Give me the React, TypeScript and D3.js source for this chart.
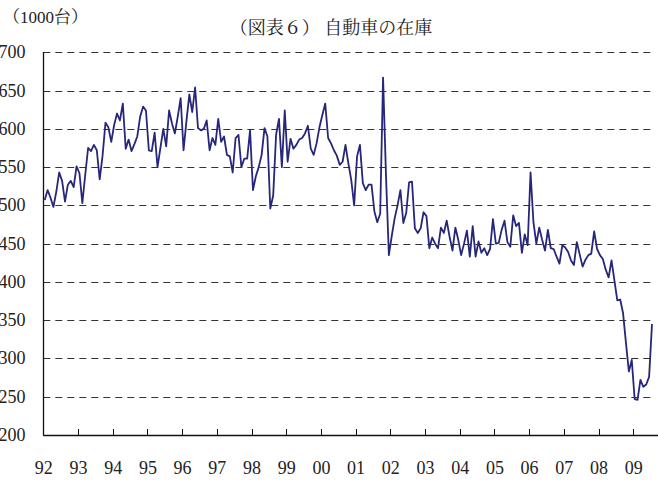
import React from "react";
import * as d3 from "d3";

const yearLabels = ["92","93","94","95","96","97","98","99","00","01","02","03","04","05","06","07","08","09"];
const yTicks = [200, 250, 300, 350, 400, 450, 500, 550, 600, 650, 700];

const v1992 = [507, 520, 510, 498, 518, 543, 532, 505, 527, 532, 524, 551];
const v1993 = [542, 503, 540, 575, 571, 579, 572, 534, 565, 608, 602, 583];
const v1994 = [605, 620, 611, 633, 574, 586, 571, 580, 590, 616, 629, 624];
const v1995 = [572, 571, 595, 550, 575, 600, 577, 624, 607, 594, 616, 640];
const v1996 = [572, 610, 645, 622, 654, 601, 598, 600, 611, 572, 588, 579];
const v1997 = [613, 583, 590, 566, 564, 543, 588, 592, 550, 561, 561, 598];
const v1998 = [520, 538, 550, 566, 601, 590, 496, 513, 592, 613, 550, 624];
const v1999 = [557, 587, 574, 579, 586, 588, 594, 604, 574, 566, 581, 602];
const v2000 = [618, 633, 588, 581, 572, 565, 553, 557, 579, 555, 533, 500];
const v2001 = [564, 579, 529, 520, 527, 527, 492, 478, 489, 667, 540, 435];
const v2002 = [460, 483, 500, 520, 477, 490, 530, 531, 470, 464, 470, 491];
const v2003 = [486, 444, 458, 450, 444, 471, 464, 480, 459, 441, 471, 455];
const v2004 = [435, 450, 467, 433, 473, 433, 453, 438, 444, 435, 443, 482];
const v2005 = [450, 451, 468, 480, 452, 446, 487, 473, 477, 438, 462, 448];
const v2006 = [543, 478, 450, 471, 455, 441, 468, 444, 443, 433, 424, 448];
const v2007 = [445, 439, 428, 422, 452, 436, 420, 429, 435, 437, 466, 443];
const v2008 = [435, 430, 416, 406, 428, 402, 376, 377, 359, 320, 283, 298];
const v2009 = [247, 246, 272, 263, 266, 276, 345];

const values = [
  ...v1992, ...v1993, ...v1994, ...v1995, ...v1996, ...v1997, ...v1998, ...v1999, ...v2000,
  ...v2001, ...v2002, ...v2003, ...v2004, ...v2005, ...v2006, ...v2007, ...v2008, ...v2009,
];

const W = 658;
const H = 482;
const left = 43.3;
const yearW = 34.7;
const x = d3.scaleLinear().domain([0, 12 * 18]).range([left, left + yearW * 18]);
const y = d3.scaleLinear().domain([200, 700]).range([435, 52.3]);

const serif = `"Liberation Serif", "Noto Serif CJK JP"`;
const fs = (size: number) => ({ fontFamily: serif, fontSize: `${size}px` });

export default function App() {
  const line = d3
    .line<number>()
    .x((_, i) => x(i + 0.5))
    .y((d) => y(d));
  const px = (v: number) => Math.round(v) + 0.5;
  return (
    <svg width={W} height={H} style={{ position: "absolute", left: 0, top: 0, background: "#fff" }}>
      <text x={3} y={23} style={fs(17)} fill="#222">（1000台）</text>
      <text x={331} y={34} style={fs(18)} fill="#222" textAnchor="middle">（図表６） 自動車の在庫</text>
      {yTicks.map((t) => (
        <g key={t}>
          {t > 200 && (
            <line x1={left} x2={652} y1={px(y(t))} y2={px(y(t))} stroke="#333" strokeWidth={1} strokeDasharray="7,5" />
          )}
          <text x={25.5} y={y(t) + 6} style={fs(18)} textAnchor="end" fill="#222">{t}</text>
        </g>
      ))}
      {yearLabels.map((lab, k) => (
        <g key={lab}>
          {k > 0 && (
            <line x1={px(x(k * 12))} x2={px(x(k * 12))} y1={435} y2={429} stroke="#111" strokeWidth={1} />
          )}
          <text x={x(k * 12) + 0.5} y={474} style={fs(18)} textAnchor="middle" fill="#222">{lab}</text>
        </g>
      ))}
      <line x1={px(left)} x2={px(left)} y1={52} y2={435.5} stroke="#111" strokeWidth={1.3} />
      <line x1={left} x2={W} y1={435.5} y2={435.5} stroke="#111" strokeWidth={1.3} />
      <path d={line(values) || ""} fill="none" stroke="#26267a" strokeWidth={1.8} strokeLinejoin="round" />
    </svg>
  );
}
